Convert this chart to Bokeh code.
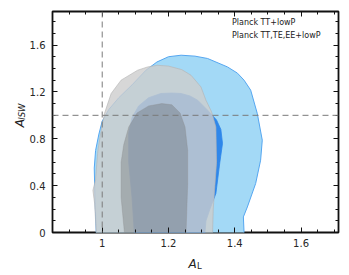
import math
from bokeh.plotting import figure
from bokeh.layouts import row, column
from bokeh.models import (Range1d, Span, Legend, LegendItem, LinearAxis,
                          FixedTicker, CustomJSTickFormatter)
from bokeh.core.properties import value
from bokeh.embed import file_html
from bokeh.resources import INLINE

# ---- data (contour outlines) ----
# Planck TT+lowP, 95% region
blue95_x = [0.982, 0.982, 0.978, 0.976, 0.980, 0.990, 1.000, 1.020, 1.050, 1.090, 1.132,
            1.165, 1.200, 1.238, 1.280, 1.318, 1.378, 1.408, 1.428, 1.448, 1.468, 1.483,
            1.478, 1.463, 1.438, 1.426, 1.428, 1.428]
blue95_y = [-0.05, 0.00, 0.30, 0.55, 0.70, 0.84, 0.95, 1.05, 1.15, 1.26, 1.385,
            1.455, 1.500, 1.513, 1.505, 1.485, 1.413, 1.360, 1.300, 1.215, 1.015, 0.788,
            0.617, 0.418, 0.218, 0.133, 0.00, -0.05]
# Planck TT+lowP, 68% region
blue68_x = [1.097, 1.097, 1.090, 1.080, 1.080, 1.090, 1.110, 1.140, 1.177, 1.210, 1.238,
            1.265, 1.288, 1.318, 1.345, 1.358, 1.363, 1.355, 1.343, 1.325, 1.313, 1.310, 1.310]
blue68_y = [-0.05, 0.00, 0.30, 0.60, 0.85, 0.98, 1.08, 1.15, 1.186, 1.190, 1.186,
            1.165, 1.129, 1.044, 0.960, 0.880, 0.760, 0.600, 0.333, 0.200, 0.100, 0.00, -0.05]
# Planck TT,TE,EE+lowP, 95% region
gray95_x = [0.982, 0.982, 0.977, 0.972, 0.980, 0.982, 0.987, 0.997, 1.007, 1.027, 1.057,
            1.107, 1.137, 1.167, 1.200, 1.240, 1.268, 1.298, 1.313, 1.330, 1.343, 1.345,
            1.340, 1.335, 1.333, 1.333]
gray95_y = [-0.05, 0.00, 0.25, 0.36, 0.45, 0.53, 0.70, 0.873, 1.017, 1.186, 1.300,
            1.385, 1.413, 1.427, 1.420, 1.390, 1.342, 1.242, 1.129, 1.030, 0.900, 0.600,
            0.400, 0.200, 0.00, -0.05]
# Planck TT,TE,EE+lowP, 68% region
gray68_x = [1.067, 1.067, 1.057, 1.057, 1.065, 1.080, 1.105, 1.140, 1.180, 1.210, 1.235,
            1.250, 1.258, 1.258, 1.253, 1.253]
gray68_y = [-0.05, 0.00, 0.30, 0.60, 0.75, 0.90, 1.02, 1.08, 1.10, 1.09, 1.02,
            0.90, 0.70, 0.42, 0.00, -0.05]

series_labels = ["Planck TT+lowP", "Planck TT,TE,EE+lowP"]
x_label_main, x_label_sub = "A", "L"
y_label_main, y_label_sub = "A", "ISW"
ref_AL = 1.0
ref_AISW = 1.0
x_lims = (0.85, 1.713)
y_lims = (0.0, 1.886)
x_major = [1.0, 1.2, 1.4, 1.6]
y_major = [0.0, 0.4, 0.8, 1.2, 1.6]

FONT = "DejaVu Sans"
TXT = "#222222"

YLAB_W = 26
MAIN_W = 315
ROW_H = 251
XLAB_H = 22

p = figure(width=MAIN_W, height=ROW_H, output_backend="svg", toolbar_location=None,
           x_range=Range1d(*x_lims), y_range=Range1d(*y_lims),
           min_border_left=25, min_border_right=3, min_border_top=11, min_border_bottom=19)
p.grid.visible = False
p.background_fill_color = "white"
p.border_fill_color = "white"
p.outline_line_color = "#111111"
p.outline_line_width = 1.8

r_b95 = p.patch(blue95_x, blue95_y, fill_color="#a3d9f6", line_color="#55a6f0", line_width=1.0)
r_b68 = p.patch(blue68_x, blue68_y, fill_color="#2f87ea", line_color="#2f87ea", line_width=0.8)
r_g95 = p.patch(gray95_x, gray95_y, fill_color="#cdcdcd", fill_alpha=0.8,
                line_color="#b5b5b5", line_alpha=0.8, line_width=0.8)
r_g68 = p.patch(gray68_x, gray68_y, fill_color="#5a5a5a", fill_alpha=0.3,
                line_color="#8a8a8a", line_alpha=0.4, line_width=0.8)

# legend-only swatches
leg_b = p.patch([], [], fill_color="#2f87ea", line_alpha=0)
leg_g = p.patch([], [], fill_color="#b0b0b0", line_alpha=0)

p.add_layout(Span(location=ref_AL, dimension="height", line_color="#7a7a7a",
                  line_dash="6 4", line_width=1.0))
p.add_layout(Span(location=ref_AISW, dimension="width", line_color="#7a7a7a",
                  line_dash="6 4", line_width=1.0))

def style_axis(ax, labels=True):
    ax.axis_line_alpha = 0
    ax.major_tick_in = 5
    ax.major_tick_out = 0
    ax.minor_tick_in = 3
    ax.minor_tick_out = 0
    ax.major_tick_line_color = "#111111"
    ax.minor_tick_line_color = "#111111"
    ax.major_tick_line_width = 1
    ax.minor_tick_line_width = 1
    ax.major_label_text_font = FONT
    ax.major_label_text_color = "#262626"
    ax.major_label_text_font_size = "10px"
    if not labels:
        ax.formatter = CustomJSTickFormatter(code="return '';")
        ax.major_label_standoff = 0

xt = FixedTicker(ticks=x_major, minor_ticks=[0.85 + 0.05 * i for i in range(18)])
yt = FixedTicker(ticks=y_major, minor_ticks=[0.1 * i for i in range(19)])

for ax in p.xaxis:
    ax.ticker = xt
    style_axis(ax)
    ax.major_label_standoff = 6
for ax in p.yaxis:
    ax.ticker = yt
    style_axis(ax)
    ax.major_label_standoff = 7

top_ax = LinearAxis(ticker=xt)
style_axis(top_ax, labels=False)
p.add_layout(top_ax, "above")
right_ax = LinearAxis(ticker=yt)
style_axis(right_ax, labels=False)
p.add_layout(right_ax, "right")

legend = Legend(items=[LegendItem(label=series_labels[0], renderers=[leg_b]),
                       LegendItem(label=series_labels[1], renderers=[leg_g])],
                location="top_right", margin=0, padding=5, spacing=1,
                glyph_width=15, glyph_height=7, label_height=12, label_width=101,
                label_standoff=7, label_text_font=FONT, label_text_font_size="8px",
                label_text_color=TXT, border_line_alpha=0, background_fill_alpha=0)
p.add_layout(legend)

def label_panel(w, h):
    f = figure(width=w, height=h, output_backend="svg", toolbar_location=None,
               x_range=Range1d(0, w), y_range=Range1d(0, h),
               x_axis_type=None, y_axis_type=None, min_border=0)
    f.grid.visible = False
    f.outline_line_color = None
    f.background_fill_color = "white"
    f.border_fill_color = "white"
    return f

# y axis label: A_ISW, rotated
fy = label_panel(YLAB_W, ROW_H)
fy.text(x=[19.5], y=[119.5], text=[y_label_main], angle=math.pi / 2,
        text_font=value(FONT), text_font_style="italic", text_font_size="12px",
        text_color=TXT, text_baseline="alphabetic", text_align="left")
fy.text(x=[21.5], y=[128], text=[y_label_sub], angle=math.pi / 2,
        text_font=value(FONT), text_font_style="italic", text_font_size="8.5px",
        text_color=TXT, text_baseline="alphabetic", text_align="left")

# x axis label: A_L
fx = label_panel(YLAB_W + MAIN_W, XLAB_H)
fx.text(x=[188], y=[10], text=[x_label_main],
        text_font=value(FONT), text_font_style="italic", text_font_size="12px",
        text_color=TXT, text_baseline="alphabetic", text_align="left")
fx.text(x=[196.5], y=[8], text=[x_label_sub],
        text_font=value(FONT), text_font_size="8.5px",
        text_color=TXT, text_baseline="alphabetic", text_align="left")

layout = column(row(fy, p, spacing=0), fx, spacing=0)

open("out.html", "w").write(file_html(layout, INLINE))
